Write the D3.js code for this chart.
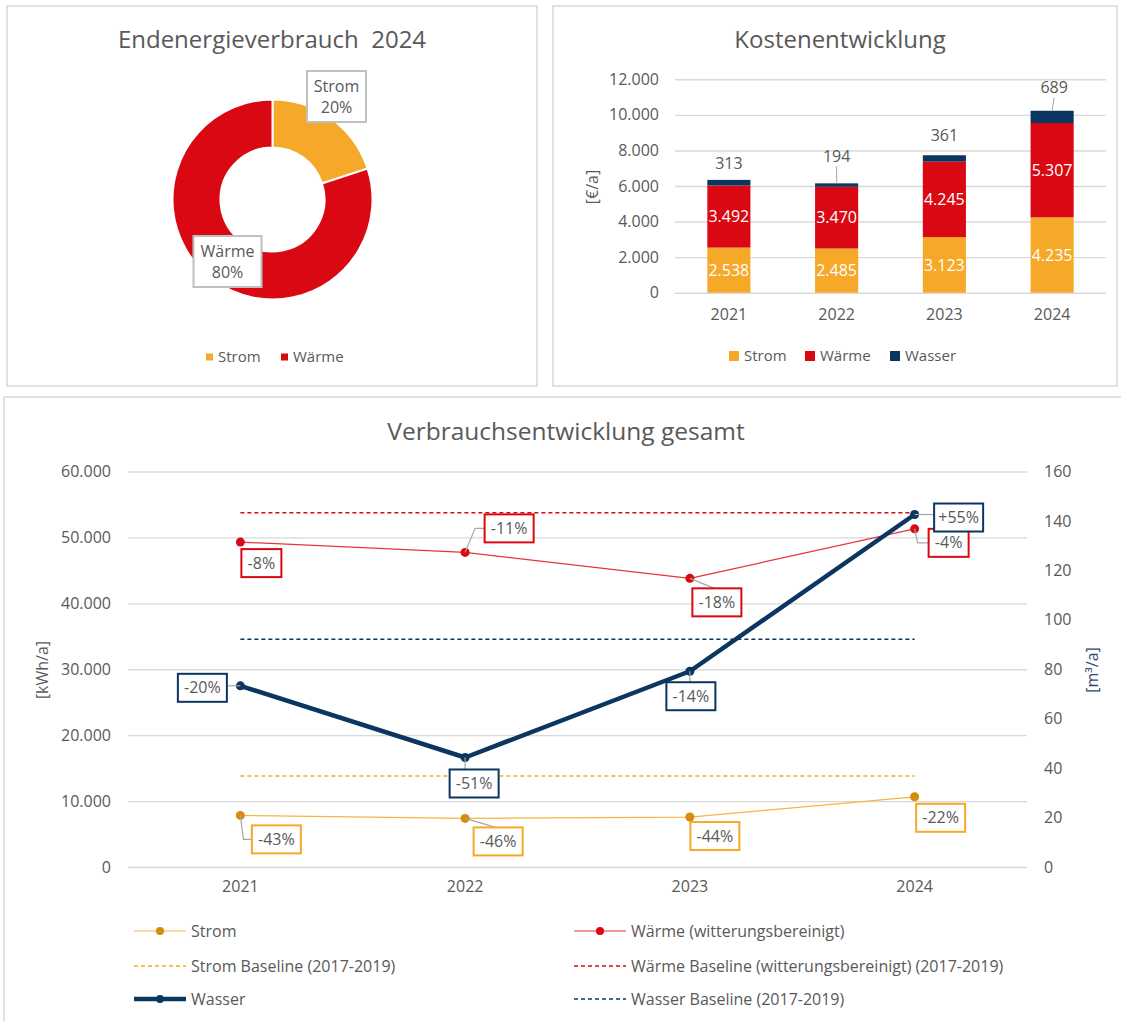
<!DOCTYPE html>
<html>
<head>
<meta charset="utf-8">
<script src="https://cdn.jsdelivr.net/npm/d3@7"></script>
<style>
  body { margin: 0; background: #fff; }
  text { font-family: "Open Sans", sans-serif; fill: #595959; }
</style>
</head>
<body>
<svg id="chart" width="1121" height="1021"></svg>
<script>
// ---- data ----
var years = ["2021", "2022", "2023", "2024"];

var shareNames = ["Strom", "Wärme"];
var shareValues = [20, 80];

var costKeys = ["Strom", "Wärme", "Wasser"];
var costStrom = [2538, 2485, 3123, 4235];
var costWaerme = [3492, 3470, 4245, 5307];
var costWasser = [313, 194, 361, 689];
var costTicks = [0, 2000, 4000, 6000, 8000, 10000, 12000];

var stromKwh = [7830, 7370, 7580, 10650];
var waermeKwh = [49290, 47730, 43790, 51300];
var wasserM3 = [73.3, 44.3, 79.2, 142.6];
var stromBaseline = 13790;
var waermeBaseline = 53740;
var wasserBaseline = 92.1;
var kwhTicks = [0, 10000, 20000, 30000, 40000, 50000, 60000];
var m3Ticks = [0, 20, 40, 60, 80, 100, 120, 140, 160];

var stromPct = ["-43%", "-46%", "-44%", "-22%"];
var waermePct = ["-8%", "-11%", "-18%", "-4%"];
var wasserPct = ["-20%", "-51%", "-14%", "+55%"];

var legendNames = ["Strom", "Wärme (witterungsbereinigt)", "Strom Baseline (2017-2019)",
    "Wärme Baseline (witterungsbereinigt) (2017-2019)", "Wasser", "Wasser Baseline (2017-2019)"];

// ---- colours / layout ----
var cStrom = "#f6a828", cWaerme = "#da0812", cWasser = "#0b3660";
var cStromLine = "#f8b541", cStromDot = "#d68b0c", cWaermeLine = "#e8333b";
var grid = "#d9d9d9", lead = "#a6a6a6";

var de = d3.formatLocale({ decimal: ",", thousands: ".", grouping: [3], currency: ["", "€"] });
var fmt = de.format(",d");

var svg = d3.select("#chart");
svg.append("rect").attr("width", 1121).attr("height", 1021).attr("fill", "#fff");

// panel frames
svg.append("rect").attr("x", 7).attr("y", 6).attr("width", 530).attr("height", 380)
    .attr("fill", "none").attr("stroke", grid).attr("stroke-width", 1.5);
svg.append("rect").attr("x", 553).attr("y", 6).attr("width", 564).attr("height", 380)
    .attr("fill", "none").attr("stroke", grid).attr("stroke-width", 1.5);
svg.append("rect").attr("x", 4).attr("y", 397).attr("width", 1130).attr("height", 640)
    .attr("fill", "none").attr("stroke", grid).attr("stroke-width", 1.5);

function labelBox(g, cx, cy, w, h, color, lines, size) {
    g.append("rect").attr("x", cx - w / 2).attr("y", cy - h / 2).attr("width", w).attr("height", h)
        .attr("fill", "#fff").attr("stroke", color).attr("stroke-width", 2);
    lines.forEach(function(t, i) {
        g.append("text").attr("x", cx).attr("y", cy + (i - (lines.length - 1) / 2) * 21)
            .attr("dy", "0.35em").attr("text-anchor", "middle")
            .style("font-size", size + "px").text(t);
    });
}

// ===== Panel 1: donut =====
var p1 = svg.append("g");
p1.append("text").attr("x", 272).attr("y", 40).attr("dy", "0.35em").attr("text-anchor", "middle")
    .style("font-size", "24px").style("white-space", "pre").text("Endenergieverbrauch  2024");

var pie = d3.pie().sort(null).value(function(d) { return d; });
var arc = d3.arc().innerRadius(52).outerRadius(100);
var donut = p1.append("g").attr("transform", "translate(272.5,199.5)");
donut.selectAll("path").data(pie(shareValues)).enter().append("path")
    .attr("d", arc)
    .attr("fill", function(d, i) { return i === 0 ? cStrom : cWaerme; })
    .attr("stroke", "#fff").attr("stroke-width", 2);

var donutLabelPos = [[64, -103], [-45, 62]];
pie(shareValues).forEach(function(d, i) {
    labelBox(donut, donutLabelPos[i][0], donutLabelPos[i][1], i === 0 ? 59 : 68, 51, "#bfbfbf",
        [shareNames[i], d.data + "%"], 16);
});

var l1 = p1.append("g").attr("transform", "translate(206,357)");
shareNames.forEach(function(n, i) {
    var gx = i * 75;
    l1.append("rect").attr("x", gx).attr("y", -3.5).attr("width", 7).attr("height", 7)
        .attr("fill", i === 0 ? cStrom : cWaerme);
    l1.append("text").attr("x", gx + 12).attr("dy", "0.35em").style("font-size", "15px").text(n);
});

// ===== Panel 2: stacked bars =====
var p2 = svg.append("g");
p2.append("text").attr("x", 840).attr("y", 40).attr("dy", "0.35em").attr("text-anchor", "middle")
    .style("font-size", "24px").text("Kostenentwicklung");

var xb = d3.scaleBand().domain(years).range([675, 1106]).paddingInner(0.6).paddingOuter(0.3);
var yb = d3.scaleLinear().domain([0, 12000]).range([292.7, 79.3]);

var gy2 = p2.append("g").attr("transform", "translate(675,0)")
    .call(d3.axisLeft(yb).tickValues(costTicks).tickFormat(fmt).tickSize(-431).tickPadding(16));
gy2.select(".domain").remove();
gy2.selectAll(".tick line").attr("stroke", grid).attr("stroke-width", 1.4);
gy2.selectAll(".tick text").style("font-size", "16px").attr("fill", "#595959")
    .style("font-family", "Open Sans");

var gx2 = p2.append("g").attr("transform", "translate(0,292.7)")
    .call(d3.axisBottom(xb).tickSize(0).tickPadding(16));
gx2.select(".domain").remove();
gx2.selectAll(".tick text").style("font-size", "16px").attr("fill", "#595959")
    .style("font-family", "Open Sans");

p2.append("text").attr("transform", "translate(592,187) rotate(-90)").attr("text-anchor", "middle")
    .attr("dy", "0.35em").style("font-size", "16px").text("[€/a]");

var costRows = years.map(function(y, i) {
    return { year: y, "Strom": costStrom[i], "Wärme": costWaerme[i], "Wasser": costWasser[i] };
});
var stack = d3.stack().keys(costKeys)(costRows);
var costColors = [cStrom, cWaerme, cWasser];

stack.forEach(function(layer, k) {
    p2.selectAll(".bar" + k).data(layer).enter().append("rect")
        .attr("x", function(d) { return xb(d.data.year); })
        .attr("width", xb.bandwidth())
        .attr("y", function(d) { return yb(d[1]); })
        .attr("height", function(d) { return yb(d[0]) - yb(d[1]); })
        .attr("fill", costColors[k]);
});
// inner labels
[0, 1].forEach(function(k) {
    p2.selectAll(".lbl" + k).data(stack[k]).enter().append("text")
        .attr("x", function(d) { return xb(d.data.year) + xb.bandwidth() / 2; })
        .attr("y", function(d) { return (yb(d[0]) + yb(d[1])) / 2; })
        .attr("dy", "0.35em").attr("text-anchor", "middle")
        .style("font-size", "16px").style("fill", "#fff")
        .text(function(d) { return fmt(d[1] - d[0]); });
});
// Wasser labels above bars
var wasserLabelDy = [-17, -27, -20, -23];
var wasserLeader = [false, true, false, true];
stack[2].forEach(function(d, i) {
    var cx = xb(d.data.year) + xb.bandwidth() / 2, top = yb(d[1]);
    if (wasserLeader[i]) {
        p2.append("line").attr("x1", cx).attr("x2", cx + (i === 3 ? 2 : 0))
            .attr("y1", top).attr("y2", top + wasserLabelDy[i] + 10)
            .attr("stroke", lead).attr("stroke-width", 1);
    }
    p2.append("text").attr("x", cx + (i === 3 ? 2 : 0)).attr("y", top + wasserLabelDy[i])
        .attr("dy", "0.35em").attr("text-anchor", "middle").style("font-size", "16px")
        .text(d[1] - d[0]);
});

var l2 = p2.append("g").attr("transform", "translate(729,356)");
var l2x = [0, 76, 161];
costKeys.forEach(function(n, i) {
    l2.append("rect").attr("x", l2x[i]).attr("y", -5).attr("width", 10).attr("height", 10)
        .attr("fill", costColors[i]);
    l2.append("text").attr("x", l2x[i] + 15).attr("dy", "0.35em").style("font-size", "15px").text(n);
});

// ===== Panel 3: lines =====
var p3 = svg.append("g");
p3.append("text").attr("x", 566).attr("y", 431).attr("dy", "0.35em").attr("text-anchor", "middle")
    .style("font-size", "24.5px").text("Verbrauchsentwicklung gesamt");

var x3 = d3.scaleBand().domain(years).range([128, 1027]);
var yL = d3.scaleLinear().domain([0, 60000]).range([867, 471.5]);
var yR = d3.scaleLinear().domain([0, 160]).range([867, 471.5]);
function cx3(i) { return x3(years[i]) + x3.bandwidth() / 2; }

var gyL = p3.append("g").attr("transform", "translate(128,0)")
    .call(d3.axisLeft(yL).tickValues(kwhTicks).tickFormat(fmt).tickSize(-899).tickPadding(17));
gyL.select(".domain").remove();
gyL.selectAll(".tick line").attr("stroke", grid).attr("stroke-width", 1.4);
gyL.selectAll(".tick text").style("font-size", "16px").attr("fill", "#595959")
    .style("font-family", "Open Sans");

var gyR = p3.append("g").attr("transform", "translate(1027,0)")
    .call(d3.axisRight(yR).tickValues(m3Ticks).tickSize(0).tickPadding(17));
gyR.select(".domain").remove();
gyR.selectAll(".tick text").style("font-size", "16px").attr("fill", "#2c4a70")
    .style("font-family", "Open Sans");

var gx3 = p3.append("g").attr("transform", "translate(0,867)")
    .call(d3.axisBottom(x3).tickSize(0).tickPadding(14));
gx3.select(".domain").remove();
gx3.selectAll(".tick text").style("font-size", "16px").attr("fill", "#595959")
    .style("font-family", "Open Sans");

p3.append("text").attr("transform", "translate(42,670) rotate(-90)").attr("text-anchor", "middle")
    .attr("dy", "0.35em").style("font-size", "16px").text("[kWh/a]");
p3.append("text").attr("transform", "translate(1092,670) rotate(-90)").attr("text-anchor", "middle")
    .attr("dy", "0.35em").style("font-size", "16px").style("fill", "#2c4a70").text("[m³/a]");

// baselines
function baseline(yv, color) {
    p3.append("line").attr("x1", cx3(0)).attr("x2", cx3(3)).attr("y1", yv).attr("y2", yv)
        .attr("stroke", color).attr("stroke-width", 1.5).attr("stroke-dasharray", "4,3");
}
baseline(yL(waermeBaseline), cWaerme);
baseline(yR(wasserBaseline), cWasser);
baseline(yL(stromBaseline), cStrom);

var series = [
    { vals: stromKwh, y: yL, line: cStromLine, dot: cStromDot, width: 1.2, r: 4.5, pct: stromPct, box: cStrom },
    { vals: waermeKwh, y: yL, line: cWaermeLine, dot: cWaerme, width: 1.2, r: 4.5, pct: waermePct, box: cWaerme },
    { vals: wasserM3, y: yR, line: cWasser, dot: cWasser, width: 4.5, r: 4.5, pct: wasserPct, box: cWasser }
];

series.forEach(function(s) {
    var line = d3.line().x(function(d, i) { return cx3(i); }).y(function(d) { return s.y(d); });
    p3.append("path").datum(s.vals).attr("d", line).attr("fill", "none")
        .attr("stroke", s.line).attr("stroke-width", s.width).attr("stroke-linejoin", "round");
    p3.selectAll(null).data(s.vals).enter().append("circle")
        .attr("cx", function(d, i) { return cx3(i); })
        .attr("cy", function(d) { return s.y(d); })
        .attr("r", s.r).attr("fill", s.dot);
});

// data label placement: box centre offset from point, optional elbow for leader
var labelLayout = [
    [[36, 24, "elbowV"], [33, 23, "diag"], [25, 19, "none"], [26, 21, "none"]],
    [[21, 21, "none"], [44, -24, "elbowH"], [27, 24, "diag"], [34, 14, "elbowV"]],
    [[-38, 2, "diag"], [9, 26, "diag"], [1, 25, "diag"], [44, 3, "diag"]]
];
var labelG = p3.append("g");
series.forEach(function(s, k) {
    s.vals.forEach(function(v, i) {
        var px = cx3(i), py = s.y(v);
        var o = labelLayout[k][i];
        var bx = px + o[0], by = py + o[1];
        var w = s.pct[i].length > 3 ? 49 : 40, h = 28;
        var pts = null;
        if (o[2] === "elbowV") pts = [[px, py], [px + 3, by], [bx - w / 2, by]];
        else if (o[2] === "elbowH") pts = [[px, py], [px + 10, by], [bx - w / 2, by]];
        else if (o[2] === "diag") {
            var ex = Math.max(bx - w / 2, Math.min(px, bx + w / 2));
            var ey = Math.max(by - h / 2, Math.min(py, by + h / 2));
            if (o[0] > w / 2 && Math.abs(o[1]) > h / 2) { ex = bx - w / 2 + 22; ey = by - h / 2; }
            pts = [[px, py], [ex, ey]];
        }
        if (pts) {
            labelG.append("path").attr("d", d3.line()(pts)).attr("fill", "none")
                .attr("stroke", lead).attr("stroke-width", 1.2);
        }
        labelBox(labelG, bx, by, w, h, s.box, [s.pct[i]], 16);
    });
});

// legend
var legendItems = [
    { col: 0, row: 0, color: cStromLine, dot: cStromDot, width: 1.2, dash: null },
    { col: 1, row: 0, color: cWaermeLine, dot: cWaerme, width: 1.2, dash: null },
    { col: 0, row: 1, color: cStrom, dot: null, width: 1.5, dash: "4,3" },
    { col: 1, row: 1, color: cWaerme, dot: null, width: 1.5, dash: "4,3" },
    { col: 0, row: 2, color: cWasser, dot: cWasser, width: 4.5, dash: null },
    { col: 1, row: 2, color: cWasser, dot: null, width: 1.5, dash: "4,3" }
];
var legX = [134, 574], legY = [931, 966, 999];
legendItems.forEach(function(it, i) {
    var lx = legX[it.col], ly = legY[it.row];
    p3.append("line").attr("x1", lx).attr("x2", lx + 52).attr("y1", ly).attr("y2", ly)
        .attr("stroke", it.color).attr("stroke-width", it.width)
        .attr("stroke-dasharray", it.dash);
    if (it.dot) p3.append("circle").attr("cx", lx + 26).attr("cy", ly).attr("r", 4).attr("fill", it.dot);
    p3.append("text").attr("x", lx + 57).attr("y", ly).attr("dy", "0.35em")
        .style("font-size", "16px").text(legendNames[i]);
});
</script>
</body>
</html>
